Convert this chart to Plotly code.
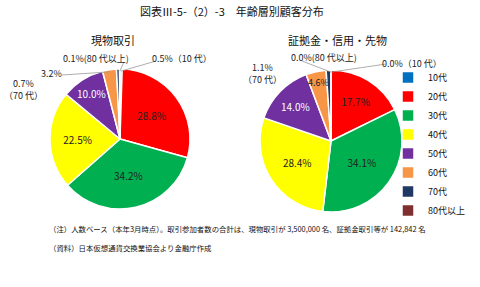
import math
import plotly.graph_objects as go

W, H = 480, 287
labels = ["10代", "20代", "30代", "40代", "50代", "60代", "70代", "80代以上"]
genbutsu = [0.5, 28.8, 34.2, 22.5, 10.0, 3.2, 0.7, 0.1]
shoko = [0.0, 17.7, 34.1, 28.4, 14.0, 4.6, 1.1, 0.0]
colors = ["#0070C0", "#FF0000", "#00B050", "#FFFF00", "#7030A0", "#F79646", "#1F3864", "#7F2F2F"]
txtcolors = ["#000", "#222", "#222", "#222", "#FFFFFF", "#222", "#FFF", "#FFF"]

title_main = "図表Ⅲ-5-（2）-3　年齢層別顧客分布"
title_left = "現物取引"
title_right = "証拠金・信用・先物"
note1 = "（注）人数ベース（本年3月時点）。取引参加者数の合計は、現物取引が 3,500,000 名、証拠金取引等が 142,842 名"
note2 = "（資料）日本仮想通貨交換業協会より金融庁作成"

FONT = "Noto Sans CJK JP"

# pie geometry (pixels)
L = dict(cx=120, cy=139, r=70)
R = dict(cx=331, cy=141, r=71)


def dom(p):
    return dict(x=[(p["cx"] - p["r"]) / W, (p["cx"] + p["r"]) / W],
                y=[1 - (p["cy"] + p["r"]) / H, 1 - (p["cy"] - p["r"]) / H])


def inside_text(vals, lo, hi=100):
    return [f"{v:.1f}%" if lo <= v < hi else "" for v in vals]


fig = go.Figure()
for vals, p, show in [(genbutsu, L, True), (shoko, R, False)]:
    fig.add_trace(go.Pie(
        labels=labels, values=vals, sort=False, direction="clockwise", rotation=0,
        marker=dict(colors=colors, line=dict(color="white", width=1.5)),
        text=inside_text(vals, 8), textinfo="text", textposition="inside",
        insidetextfont=dict(color=txtcolors, size=10, family=FONT),
        insidetextorientation="horizontal",
        domain=dom(p), showlegend=show, hoverinfo="label+percent"))


def px(x, y):
    return x / W, 1 - y / H


def edge_point(vals, idx, p, frac=0.97):
    tot = sum(vals)
    start = sum(vals[:idx]) / tot
    mid = (start + vals[idx] / tot / 2) * 2 * math.pi
    x = p["cx"] + p["r"] * frac * math.sin(mid)
    y = p["cy"] - p["r"] * frac * math.cos(mid)
    return x, y


annotations = []
shapes = []


def text_at(tx, ty, text, size=9, color="#222", xanchor="center"):
    X, Y = px(tx, ty)
    annotations.append(dict(x=X, y=Y, xref="paper", yref="paper", text=text, showarrow=False,
                            xanchor=xanchor, yanchor="middle",
                            font=dict(size=size, family=FONT, color=color)))


def leader(vals, idx, p, x1, y1):
    x0, y0 = edge_point(vals, idx, p)
    a = px(x0, y0)
    b = px(x1, y1)
    shapes.append(dict(type="line", xref="paper", yref="paper", x0=a[0], y0=a[1], x1=b[0], y1=b[1],
                       line=dict(color="#999", width=0.8)))


# left pie outside labels
text_at(182, 59, f"{genbutsu[0]:.1f}%（10 代）")
leader(genbutsu, 0, L, 156, 61)
text_at(96, 59, f"{genbutsu[7]:.1f}%(80 代以上)")
leader(genbutsu, 7, L, 124, 62)
text_at(51, 73, f"{genbutsu[5]:.1f}%")
leader(genbutsu, 5, L, 62, 75)
text_at(23, 89, f"{genbutsu[6]:.1f}%<br>（70 代）")

# right pie outside labels
text_at(324, 57, f"{shoko[7]:.1f}%(80 代以上)")
leader(shoko, 7, R, 302, 61)
text_at(412, 64, f"{shoko[0]:.1f}%（10 代）")
leader(shoko, 0, R, 386, 64)
text_at(262, 73, f"{shoko[6]:.1f}%<br>（70 代）")

# mid-size slice label placed inside its slice (right pie 60代)
mx, my = edge_point(shoko, 5, R, frac=0.84)
text_at(mx, my, f"{shoko[5]:.1f}%", size=9, color="#222")

text_at(232, 11, title_main, size=11, color="#111")
text_at(113, 40, title_left, size=11, color="#111")
text_at(337, 40, title_right, size=11, color="#111")
text_at(47, 228, note1, size=7.4, color="#111", xanchor="left")
text_at(47, 247, note2, size=7.4, color="#111", xanchor="left")

fig.update_layout(
    width=W, height=H, margin=dict(l=0, r=0, t=0, b=0),
    paper_bgcolor="white", plot_bgcolor="white",
    font=dict(family=FONT, size=9, color="#222"),
    legend=dict(x=388 / W, y=1 - 63 / H, xanchor="left", yanchor="top", traceorder="normal",
                font=dict(size=9, family=FONT, color="#111"), itemwidth=30, tracegroupgap=0,
                bgcolor="rgba(0,0,0,0)"),
    annotations=annotations, shapes=shapes,
)
fig.write_html("out.html")
